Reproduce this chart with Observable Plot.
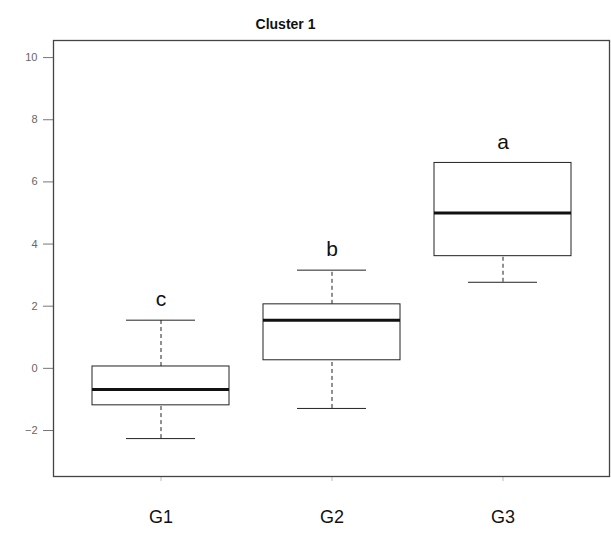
<!DOCTYPE html>
<html>
<head>
<meta charset="utf-8">
<script src="https://cdn.jsdelivr.net/npm/d3@7"></script>
<script src="https://cdn.jsdelivr.net/npm/@observablehq/plot@0.6"></script>
<style>
  html, body { margin: 0; padding: 0; background: #fff; }
  #chart svg { display: block; }
</style>
</head>
<body>
<div id="chart"></div>
<script>
const title = "Cluster 1";
const groups = ["G1", "G2", "G3"];
const whiskerLow = [-2.26, -1.29, 2.77];
const q1 = [-1.19, 0.26, 3.61];
const median = [-0.68, 1.55, 5.0];
const q3 = [0.06, 2.06, 6.61];
const whiskerHigh = [1.55, 3.16, 6.61];
const letters = ["c", "b", "a"];
const yTicks = [-2, 0, 2, 4, 6, 8, 10];

const data = groups.map((g, i) => ({
  g, lo: whiskerLow[i], q1: q1[i], med: median[i], q3: q3[i], hi: whiskerHigh[i], letter: letters[i]
}));

const chart = Plot.plot({
  width: 611,
  height: 533,
  marginLeft: 53,
  marginRight: 2,
  marginTop: 40,
  marginBottom: 57,
  style: { fontFamily: "Liberation Sans, Arial, sans-serif", background: "#fff" },
  x: { type: "band", domain: groups, paddingInner: 0.2, paddingOuter: 0.22, label: null },
  y: { domain: [-3.48, 10.55], label: null },
  marks: [
    Plot.axisY({ ticks: yTicks, tickSize: 10, tickPadding: 6, fontSize: 11, fill: "#666", stroke: "#777", label: null }),
    Plot.axisX({ tickSize: 5, tickPadding: 29, fontSize: 18, fill: "#111", stroke: "#bbb", label: null }),
    // whiskers (dashed)
    Plot.ruleX(data, { x: "g", y1: "q3", y2: "hi", stroke: "#222", strokeDasharray: "4,3" }),
    Plot.ruleX(data, { x: "g", y1: "lo", y2: "q1", stroke: "#222", strokeDasharray: "4,3" }),
    // whisker caps
    Plot.tickY(data, { x: "g", y: "hi", insetLeft: 34, insetRight: 34, stroke: "#222" }),
    Plot.tickY(data, { x: "g", y: "lo", insetLeft: 34, insetRight: 34, stroke: "#222" }),
    // boxes
    Plot.barY(data, { x: "g", y1: "q1", y2: "q3", fill: "#fff", stroke: "#222", strokeWidth: 1 }),
    // medians
    Plot.tickY(data, { x: "g", y: "med", stroke: "#111", strokeWidth: 3 }),
    // significance letters
    Plot.text(data, { x: "g", y: "hi", text: "letter", dy: -21, fontSize: 21, fill: "#111", lineAnchor: "middle" }),
    Plot.frame({ stroke: "#444", strokeWidth: 1.3 }),
    Plot.text([title], { frameAnchor: "top", dx: -46, dy: -16, fontSize: 14, fontWeight: "bold", fill: "#111", lineAnchor: "middle" })
  ]
});
document.getElementById("chart").appendChild(chart);
</script>
</body>
</html>
